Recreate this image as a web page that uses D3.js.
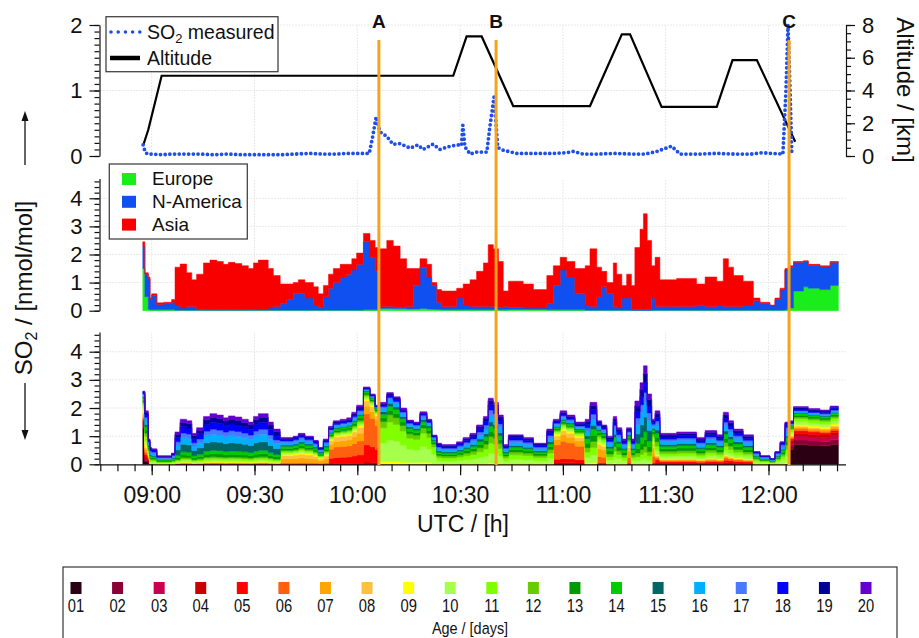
<!DOCTYPE html>
<html><head><meta charset="utf-8">
<script src="https://cdn.jsdelivr.net/npm/d3@7"></script>
<style>
body{margin:0;background:#fff}
svg text{font-family:"Liberation Sans",Arial,Helvetica,sans-serif}
</style>
</head><body>
<svg id="c" width="919" height="638"></svg>
<script>
// ---------------- DATA (times in minutes after 09:00 UTC) ----------------
const so2Min = [-2.5,-1.9,-1.2,0,3,6,10,14,18,22,26,30,34,38,42,46,50,54,57,60,63.5,64.5,65.5,66.6,68.6,70.4,72.5,75.4,77.7,79.2,82.1,84.1,87.1,89.5,90.4,90.8,91.4,92.9,94.8,97.8,98.7,99.9,101,102.5,106.5,112,117,121,123,125.9,130,135,140,144,147.4,151.7,154.2,160,165,170,175,178,181,184.2,185.1,185.7,186.3,186.8];
const so2Val = [0.17,0.06,0.03,0.03,0.02,0.03,0.03,0.03,0.02,0.03,0.02,0.02,0.02,0.02,0.03,0.04,0.03,0.03,0.04,0.04,0.04,0.3,0.6,0.37,0.3,0.18,0.19,0.12,0.17,0.1,0.18,0.1,0.15,0.17,0.16,0.47,0.14,0.03,0.06,0.06,0.45,0.9,0.13,0.09,0.04,0.04,0.04,0.05,0.07,0.03,0.03,0.04,0.03,0.03,0.07,0.15,0.03,0.03,0.04,0.03,0.03,0.05,0.04,0.03,1.0,2.0,1.0,0.03];

const altMin = [-2.45,-1.0,2.9,88.0,91.9,96.3,105.5,127.9,137.2,139.6,148.8,164.9,169.5,176.6,187.8];
const altKm  = [0.67,1.6,4.9,4.9,7.3,7.3,3.05,3.05,7.43,7.43,3.0,3.0,5.86,5.86,0.87];

const stepStartMin = [
 -2.6,-2.0,-1.0,-0.5,0.0,1.5,3.5,5.8,6.8,8.3,
 10.2,11.7,13.1,15.1,17.0,19.0,20.9,22.4,24.3,26.3,
 28.2,29.7,31.1,34.0,35.5,37.5,39.4,41.3,42.8,44.7,
 47.2,48.6,50.1,51.6,53.0,55.0,56.9,58.4,59.8,61.8,
 63.7,65.2,66.4,68.6,70.5,72.5,74.4,76.4,78.3,80.3,
 81.7,83.2,84.6,89.0,90.9,92.9,94.8,96.8,98.2,99.7,
 101.2,102.6,104.1,108.4,111.4,115.3,117.2,119.2,121.1,123.5,
 126.5,127.9,129.9,131.3,132.8,134.7,135.7,137.2,138.6,140.0,
 141.0,142.5,143.5,144.6,145.9,146.9,148.3,153.2,159.0,161.5,
 164.9,166.8,168.3,169.8,172.6,175.6,177.5,180.4,181.9,183.4,
 184.8,185.8,187.3,190.2,191.6,195.0,198.0];
const stepEndMin = 200.4;

const europe = [
 1.5,0.5,0.05,0.03,0.03,0.03,0.03,0.03,0.02,0.02,
 0.02,0.02,0.02,0.02,0.02,0.02,0.02,0.02,0.02,0.02,
 0.02,0.02,0.02,0.02,0.02,0.02,0.02,0.02,0.02,0.02,
 0.02,0.02,0.02,0.02,0.02,0.02,0.02,0.02,0.02,0.03,
 0.03,0.03,0.08,0.08,0.07,0.07,0.06,0.06,0.08,0.06,
 0.05,0.04,0.03,0.03,0.03,0.03,0.03,0.03,0.03,0.03,
 0.03,0.03,0.04,0.04,0.04,0.03,0.03,0.03,0.03,0.03,
 0.02,0.02,0.02,0.02,0.02,0.02,0.02,0.02,0.02,0.01,
 0.01,0.01,0.01,0.01,0.02,0.02,0.02,0.02,0.02,0.02,
 0.02,0.02,0.02,0.02,0.02,0.02,0.02,0.02,0.02,0.02,
 0.03,0.1,0.7,0.85,0.8,0.75,0.9];
const nAmerica = [
 0.8,0.8,1.1,0.37,0.52,0.19,0.22,0.27,0.18,0.08,
 0.13,0.13,0.03,0.02,0.02,0.02,0.02,0.02,0.02,0.02,
 0.03,0.03,0.04,0.08,0.13,0.23,0.38,0.58,0.6,0.43,
 0.18,0.1,0.48,0.78,0.98,1.18,1.28,1.43,1.63,2.42,
 1.87,1.37,0.07,0.07,0.05,0.05,0.09,0.84,1.47,1.14,
 0.85,0.26,0.12,0.42,0.17,0.12,0.12,0.12,0.12,0.12,
 0.09,0.12,0.08,0.06,0.06,0.22,0.87,1.42,1.17,0.57,
 0.18,0.13,0.48,0.83,0.58,0.13,0.08,0.43,0.43,0.04,
 0.04,0.04,0.04,0.04,0.43,0.13,0.13,0.13,0.16,0.13,
 0.18,0.13,0.13,0.13,0.18,0.33,0.23,0.16,0.38,0.73,
 1.42,1.45,1.02,0.9,0.82,0.82,0.82];
const asia = [
 0.15,0.05,0.05,0.05,0.05,0.06,0.05,0.1,1.35,1.56,
 1.2,0.95,1.25,1.66,1.76,1.71,1.61,1.68,1.64,1.56,
 1.45,1.65,1.74,1.4,1.1,0.7,0.55,0.4,0.48,0.55,
 0.65,0.48,0.4,0.5,0.5,0.45,0.35,0.4,0.4,0.3,
 0.6,0.85,2.05,2.35,2.18,1.73,1.35,0.6,0.3,0.45,
 0.1,0.45,0.55,0.35,0.75,0.95,1.25,1.55,2.2,2.05,
 1.63,0.55,0.93,0.85,0.65,1.0,0.7,0.45,0.55,0.9,
 1.4,2.05,1.05,0.55,0.4,1.55,1.2,0.45,0.85,0.85,
 2.2,2.85,3.4,2.45,1.15,1.75,0.95,1.0,0.77,1.05,
 0.85,1.7,1.4,1.1,0.85,0.1,0.05,0.02,0.05,0.05,
 0.05,0.05,0.03,0.03,0.03,0.03,0.03];

// total SO2 of the age-class panel (same time steps)
const ageTotal = [
 2.6,1.9,0.9,0.6,0.55,0.3,0.3,0.4,1.15,1.6,
 1.55,1.1,1.3,1.7,1.8,1.75,1.65,1.72,1.68,1.6,
 1.5,1.7,1.8,1.5,1.25,0.95,0.95,1.0,1.1,1.0,
 0.85,0.6,0.9,1.35,1.55,1.6,1.65,1.85,2.1,2.75,
 2.5,2.1,2.2,2.55,2.4,2.0,1.57,1.5,1.87,1.6,
 1.04,0.75,0.7,0.8,0.95,1.1,1.4,1.7,2.35,2.2,
 1.75,0.7,1.05,0.95,0.75,1.25,1.6,1.9,1.75,1.5,
 1.6,2.2,1.55,1.4,1.0,1.7,1.3,0.9,1.3,0.9,
 2.25,2.9,3.5,2.5,1.6,1.9,1.1,1.15,0.95,1.2,
 1.05,1.85,1.55,1.25,1.05,0.45,0.3,0.2,0.45,0.8,
 1.5,1.55,2.05,2.05,1.98,1.93,2.07];
// which age composition applies at each time step
const ageProfileIdx = [
 0,1,1,2,2,2,2,2,3,3,
 3,3,3,3,3,3,3,3,3,3,
 3,3,3,3,3,4,4,4,4,4,
 4,4,4,5,5,5,5,5,5,6,
 6,6,7,7,7,7,7,7,7,7,
 7,8,8,8,8,8,8,8,8,8,
 8,8,8,8,8,8,9,9,9,9,
 10,10,11,11,10,10,10,10,11,10,
 12,12,12,12,11,13,13,13,13,13,
 13,13,13,13,13,14,14,14,14,14,
 14,15,15,15,15,15,15];
// age compositions (fractions of ages 01..20)
const ageProfiles = [
 [0.5,0.03,0.03,0.04,0.04,0.03,0.03,0.03,0.04,0.04,0.04,0.03,0.03,0.03,0.02,0.02,0.02,0.02,0.01,0.01],
 [0.05,0.02,0.02,0.04,0.05,0.04,0.05,0.04,0.05,0.08,0.08,0.06,0.06,0.06,0.04,0.08,0.06,0.06,0.03,0.03],
 [0,0,0,0,0,0,0,0,0.05,0.1,0.1,0.08,0.08,0.1,0.05,0.12,0.12,0.12,0.04,0.04],
 [0,0,0,0.01,0.01,0.005,0.005,0.01,0.01,0.03,0.04,0.03,0.06,0.07,0.17,0.15,0.1,0.14,0.1,0.07],
 [0,0,0,0,0.01,0.05,0.15,0.12,0.05,0.05,0.05,0.05,0.07,0.08,0.05,0.08,0.07,0.06,0.04,0.03],
 [0,0,0,0.01,0.15,0.24,0.13,0.1,0.03,0.03,0.03,0.03,0.04,0.04,0.02,0.04,0.03,0.03,0.03,0.03],
 [0,0,0,0.03,0.22,0.4,0.1,0.07,0.02,0.02,0.02,0.02,0.02,0.02,0.01,0.01,0.01,0.01,0.01,0.01],
 [0,0,0,0,0,0,0,0,0.04,0.3,0.25,0.1,0.06,0.06,0.04,0.05,0.03,0.03,0.02,0.02],
 [0,0,0,0,0,0,0,0,0.02,0.15,0.15,0.1,0.08,0.08,0.06,0.1,0.08,0.08,0.06,0.04],
 [0,0,0,0.03,0.08,0.32,0.12,0.08,0.04,0.03,0.03,0.03,0.03,0.03,0.02,0.04,0.03,0.03,0.03,0.03],
 [0,0,0,0,0,0,0,0,0.03,0.12,0.12,0.1,0.1,0.1,0.06,0.1,0.08,0.08,0.06,0.05],
 [0,0,0,0,0.03,0.15,0.18,0.1,0.04,0.06,0.06,0.05,0.05,0.05,0.03,0.05,0.04,0.04,0.04,0.03],
 [0,0,0,0,0,0,0,0,0,0.06,0.06,0.06,0.07,0.08,0.15,0.15,0.1,0.1,0.09,0.08],
 [0,0,0,0.03,0.05,0.04,0.02,0.02,0.02,0.08,0.08,0.08,0.08,0.08,0.06,0.1,0.07,0.07,0.07,0.05],
 [0,0,0,0,0,0,0,0,0.05,0.15,0.15,0.1,0.08,0.1,0.04,0.1,0.1,0.08,0.03,0.02],
 [0.34,0.08,0.07,0.05,0.04,0.03,0.03,0.02,0.03,0.05,0.05,0.03,0.03,0.03,0.01,0.02,0.02,0.03,0.02,0.02]
];
const ageLabels = ["01","02","03","04","05","06","07","08","09","10","11","12","13","14","15","16","17","18","19","20"];
const ageColors = ["#2b0012","#8c0033","#c8004e","#c80000","#ff0000","#ff6010","#ffa500","#ffc040","#ffff00","#a6ff4d",
                   "#80ff00","#66cc00","#009900","#00cc00","#006666","#00b0ff","#4a78ff","#0000ff","#000099","#6600cc"];
const regionKeys = ["Europe","N-America","Asia"];
const regionColors = ["#1aee1a","#1050f0","#f80000"];
const markerMin = [66.3,100.5,186.0];
const markerLabels = ["A","B","C"];

// ---------------- CHART ----------------
const FONT = '"Liberation Sans",Arial,Helvetica,sans-serif';
const svg = d3.select("#c");
const base = Date.UTC(2000,0,1,9,0,0);
const toDate = m => new Date(base + m*60000);

const x = d3.scaleUtc().domain([toDate(-15), toDate(202.5)]).range([100.3, 845.6]);
const ySO2 = d3.scaleLinear().domain([0,2]).range([156,25]);
const yAlt = d3.scaleLinear().domain([0,8]).range([156,25]);
const yMid = d3.scaleLinear().domain([0,4.7]).range([310.7,178.6]);
const yBot = d3.scaleLinear().domain([0,4.7]).range([464.3,332.0]);

// grid
const grid = svg.append("g").attr("stroke","#e2e2e2").attr("stroke-width",1).attr("stroke-dasharray","1.5,1.5");
const gridTimes = x.ticks(d3.utcMinute.every(30));
[[ySO2,[1,2]],[yMid,[1,2,3,4]],[yBot,[1,2,3,4]]].forEach(([sc,vals])=>{
  gridTimes.forEach(t=>grid.append("line").attr("x1",x(t)).attr("x2",x(t))
     .attr("y1",sc.range()[0]).attr("y2",sc.range()[1]));
  vals.forEach(v=>grid.append("line").attr("x1",x.range()[0]).attr("x2",x.range()[1])
     .attr("y1",sc(v)).attr("y2",sc(v)));
});

// middle panel: stacked regions
const regRows = stepStartMin.map((m,i)=>({t:toDate(m),"Europe":europe[i],"N-America":nAmerica[i],"Asia":asia[i]}));
regRows.push(Object.assign({}, regRows[regRows.length-1], {t:toDate(stepEndMin)}));
const regStack = d3.stack().keys(regionKeys)(regRows);
const areaMid = d3.area().curve(d3.curveStepAfter)
  .x(d=>x(d.data.t)).y0(d=>yMid(d[0])).y1(d=>yMid(d[1]));
svg.append("g").selectAll("path").data(regStack).join("path")
  .attr("d",areaMid).attr("fill",(d,i)=>regionColors[i])
  .attr("stroke",(d,i)=>regionColors[i]).attr("stroke-width",0.5);

// bottom panel: stacked age classes
const ageRows = stepStartMin.map((m,i)=>{
  const p = ageProfiles[ageProfileIdx[i]];
  const s = d3.sum(p);
  const r = {t:toDate(m)};
  ageLabels.forEach((k,j)=>{ r[k] = ageTotal[i]*p[j]/s; });
  return r;
});
ageRows.push(Object.assign({}, ageRows[ageRows.length-1], {t:toDate(stepEndMin)}));
const ageStack = d3.stack().keys(ageLabels)(ageRows);
const areaBot = d3.area().curve(d3.curveStepAfter)
  .x(d=>x(d.data.t)).y0(d=>yBot(d[0])).y1(d=>yBot(d[1]));
svg.append("g").selectAll("path").data(ageStack).join("path")
  .attr("d",areaBot).attr("fill",(d,i)=>ageColors[i])
  .attr("stroke",(d,i)=>ageColors[i]).attr("stroke-width",0.5);

// top panel lines
const altLine = d3.line().x((d,i)=>x(toDate(altMin[i]))).y(d=>yAlt(d));
svg.append("path").attr("d",altLine(altKm)).attr("fill","none").attr("stroke","#000").attr("stroke-width",2.2);
const so2Line = d3.line().x((d,i)=>x(toDate(so2Min[i]))).y(d=>ySO2(d));
svg.append("path").attr("d",so2Line(so2Val)).attr("fill","none").attr("stroke","#1f4fe8")
  .attr("stroke-width",3.8).attr("stroke-dasharray","0,4.7").attr("stroke-linecap","round");

// axes
function styleAxis(g, fs){
  g.attr("font-family",FONT).attr("font-size",fs);
  g.selectAll("path,line").attr("stroke","#111").attr("stroke-width",1.2);
  g.selectAll("text").attr("fill","#111");
}
const X0 = 99.5;
function leftAxis(sc, major, minor){
  const gm = svg.append("g").attr("transform",`translate(${X0},0)`)
    .call(d3.axisLeft(sc).tickValues(minor).tickSize(5).tickSizeOuter(0).tickFormat(""));
  styleAxis(gm, 22);
  const g = svg.append("g").attr("transform",`translate(${X0},0)`)
    .call(d3.axisLeft(sc).tickValues(major).tickSize(10).tickSizeOuter(0).tickPadding(7).tickFormat(d3.format("d")));
  styleAxis(g, 22);
  g.select(".domain").remove();
}
leftAxis(ySO2,[0,1,2],d3.range(0,2.001,0.1));
leftAxis(yMid,[0,1,2,3,4],d3.range(0,4.61,0.2));
leftAxis(yBot,[0,1,2,3,4],d3.range(0,4.61,0.2));

const XR = 846;
const rm = svg.append("g").attr("transform",`translate(${XR},0)`)
  .call(d3.axisRight(yAlt).tickValues(d3.range(0,8.01,0.5)).tickSize(5).tickSizeOuter(0).tickFormat(""));
styleAxis(rm,22);
const ra = svg.append("g").attr("transform",`translate(${XR},0)`)
  .call(d3.axisRight(yAlt).tickValues([0,2,4,6,8]).tickSize(9).tickSizeOuter(0).tickPadding(7).tickFormat(d3.format("d")));
styleAxis(ra,22); ra.select(".domain").remove();

const Y0 = 464.3;
const bm = svg.append("g").attr("transform",`translate(0,${Y0})`)
  .call(d3.axisBottom(x).ticks(d3.utcMinute.every(5)).tickSize(7).tickSizeOuter(0).tickFormat(""));
styleAxis(bm,23);
bm.select(".domain").attr("d",`M${X0},0.5H${XR}`);
const ba = svg.append("g").attr("transform",`translate(0,${Y0})`)
  .call(d3.axisBottom(x).ticks(d3.utcMinute.every(30)).tickSize(11).tickSizeOuter(0).tickPadding(11).tickFormat(d3.utcFormat("%H:%M")));
styleAxis(ba,23); ba.select(".domain").remove();

// axis titles
svg.append("text").attr("x",463).attr("y",532).attr("text-anchor","middle")
  .attr("font-size",23).attr("fill","#111").text("UTC / [h]");
svg.append("text").attr("transform","translate(897,90) rotate(90)").attr("text-anchor","middle")
  .attr("font-size",24).attr("fill","#111").text("Altitude / [km]");
const yt = svg.append("text").attr("transform","translate(32,288) rotate(-90)").attr("text-anchor","middle")
  .attr("font-size",24).attr("fill","#111");
yt.append("tspan").text("SO");
yt.append("tspan").attr("font-size",16).attr("dy",5).text("2");
yt.append("tspan").attr("dy",-5).text(" / [nmol/mol]");
// arrows beside the y title
svg.append("line").attr("x1",25).attr("x2",25).attr("y1",165).attr("y2",118).attr("stroke","#111").attr("stroke-width",1.3);
svg.append("path").attr("d","M25,111L21.5,121L28.5,121Z").attr("fill","#111");
svg.append("line").attr("x1",25).attr("x2",25).attr("y1",383).attr("y2",433).attr("stroke","#111").attr("stroke-width",1.3);
svg.append("path").attr("d","M25,440L21.5,430L28.5,430Z").attr("fill","#111");

// event markers
const mk = svg.append("g");
markerMin.forEach((m,i)=>{
  mk.append("line").attr("x1",x(toDate(m))).attr("x2",x(toDate(m))).attr("y1",40).attr("y2",465)
    .attr("stroke","#f6a21a").attr("stroke-width",3);
  mk.append("text").attr("x",x(toDate(m))).attr("y",28).attr("text-anchor","middle")
    .attr("font-size",19).attr("font-weight","bold").attr("fill","#111").text(markerLabels[i]);
});

// top legend
const lg1 = svg.append("g");
lg1.append("rect").attr("x",106).attr("y",16.7).attr("width",172).attr("height",55)
  .attr("fill","#fff").attr("stroke","#444").attr("stroke-width",1.3);
lg1.append("path").attr("d","M111,32H140").attr("stroke","#1f4fe8").attr("stroke-width",3.6)
  .attr("stroke-dasharray","0,7.2").attr("stroke-linecap","round");
const t1 = lg1.append("text").attr("x",147).attr("y",39).attr("font-size",19.5).attr("fill","#111");
t1.append("tspan").text("SO");
t1.append("tspan").attr("font-size",13).attr("dy",4).text("2");
t1.append("tspan").attr("dy",-4).text(" measured");
lg1.append("line").attr("x1",110).attr("x2",140).attr("y1",58).attr("y2",58).attr("stroke","#000").attr("stroke-width",4.5);
lg1.append("text").attr("x",147).attr("y",65).attr("font-size",19.5).attr("fill","#111").text("Altitude");

// middle legend
const lg2 = svg.append("g");
lg2.append("rect").attr("x",109.3).attr("y",164).attr("width",138).attr("height",75)
  .attr("fill","#fff").attr("stroke","#444").attr("stroke-width",1.3);
regionKeys.forEach((k,i)=>{
  lg2.append("rect").attr("x",122).attr("y",173+i*22.8).attr("width",14).attr("height",12).attr("fill",regionColors[i]);
  lg2.append("text").attr("x",152).attr("y",185+i*22.8).attr("font-size",19).attr("fill","#111").text(k);
});

// age legend
const lg3 = svg.append("g");
lg3.append("rect").attr("x",63).attr("y",567).attr("width",834).attr("height",80)
  .attr("fill","#fff").attr("stroke","#444").attr("stroke-width",1.3);
const ax = d3.scalePoint().domain(ageLabels).range([76,866]);
ageLabels.forEach((k,i)=>{
  lg3.append("rect").attr("x",ax(k)-5.5).attr("y",582).attr("width",11).attr("height",12).attr("fill",ageColors[i]);
  lg3.append("text").attr("transform",`translate(${ax(k)},612) scale(0.82,1)`).attr("text-anchor","middle")
    .attr("font-size",18).attr("fill","#111").text(k);
});
lg3.append("text").attr("transform","translate(470,634) scale(0.85,1)").attr("text-anchor","middle")
  .attr("font-size",17).attr("fill","#111").text("Age / [days]");
</script>
</body></html>
